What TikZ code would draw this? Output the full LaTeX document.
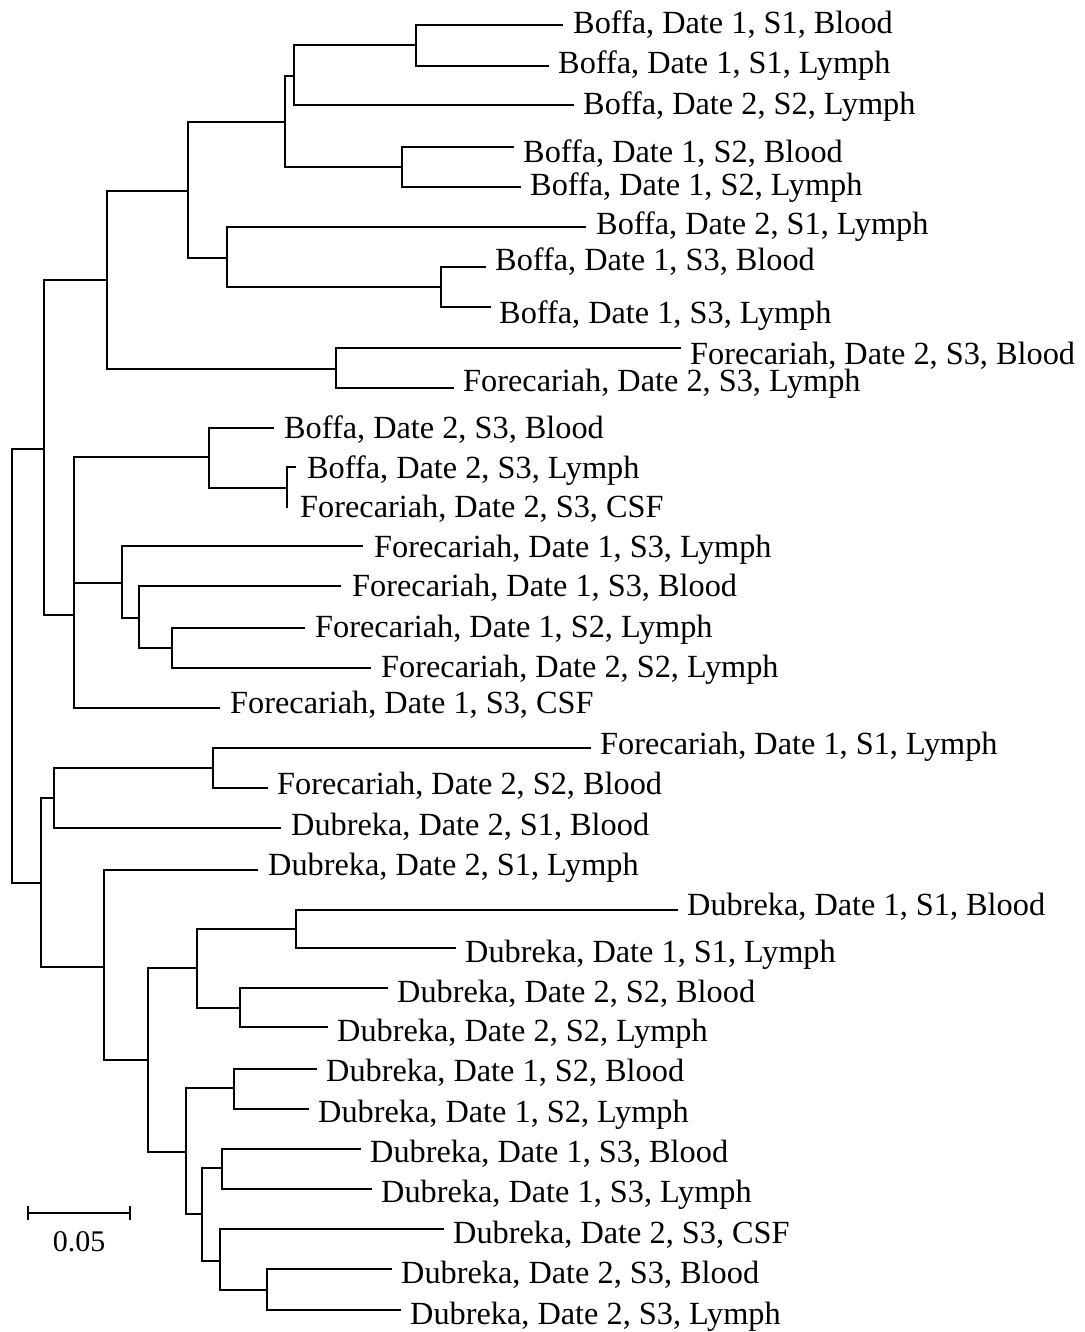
\documentclass[tikz,border=0pt]{standalone}
\usepackage{fontspec}
\setmainfont{Liberation Serif}
\begin{document}
\begin{tikzpicture}[x=1pt,y=-1pt,
  lab/.style={anchor=base west,inner sep=0pt,font=\fontsize{32.3}{36}\selectfont},
  br/.style={line width=1.5pt,line join=miter,line cap=rect}]
\useasboundingbox (0,0) rectangle (1084,1332);
% internal nodes (x, y of incoming link)
\coordinate (A) at (416,45);
\coordinate (B) at (294,76);
\coordinate (D) at (402,167);
\coordinate (C) at (285,122);
\coordinate (G) at (441,287);
\coordinate (F) at (227,258);
\coordinate (E) at (188,191);
\coordinate (I) at (336,369);
\coordinate (H) at (107,280);
\coordinate (J) at (44,449);
\coordinate (K) at (12,666);
\coordinate (O) at (287,488);
\coordinate (M) at (209,457);
\coordinate (Q) at (172,648);
\coordinate (P) at (139,618);
\coordinate (N) at (122,583);
\coordinate (L) at (74,615);
\coordinate (T) at (213,768);
\coordinate (S) at (54,798);
\coordinate (R) at (41,883);
\coordinate (X) at (296,929);
\coordinate (Y) at (240,1008);
\coordinate (W) at (197,968);
\coordinate (AA) at (234,1088);
\coordinate (AC) at (222,1168);
\coordinate (AE) at (267,1290);
\coordinate (AD) at (220,1261);
\coordinate (AB) at (202,1214);
\coordinate (Z) at (186,1152);
\coordinate (V) at (148,1060);
\coordinate (U) at (104,967);
% labels
\node[lab] (t1) at (573,34) {Boffa, Date 1, S1, Blood};
\node[lab] (t2) at (558,74) {Boffa, Date 1, S1, Lymph};
\node[lab] (t3) at (583,115) {Boffa, Date 2, S2, Lymph};
\node[lab] (t4) at (523,163) {Boffa, Date 1, S2, Blood};
\node[lab] (t5) at (530,196) {Boffa, Date 1, S2, Lymph};
\node[lab] (t6) at (596,235) {Boffa, Date 2, S1, Lymph};
\node[lab] (t7) at (495,270) {Boffa, Date 1, S3, Blood};
\node[lab] (t8) at (499,323) {Boffa, Date 1, S3, Lymph};
\node[lab] (t9) at (690,364) {Forecariah, Date 2, S3, Blood};
\node[lab] (t10) at (463,391) {Forecariah, Date 2, S3, Lymph};
\node[lab] (t11) at (284,438) {Boffa, Date 2, S3, Blood};
\node[lab] (t12) at (307,478) {Boffa, Date 2, S3, Lymph};
\node[lab] (t13) at (300,517) {Forecariah, Date 2, S3, CSF};
\node[lab] (t14) at (374,557) {Forecariah, Date 1, S3, Lymph};
\node[lab] (t15) at (352,596) {Forecariah, Date 1, S3, Blood};
\node[lab] (t16) at (315,637) {Forecariah, Date 1, S2, Lymph};
\node[lab] (t17) at (381,677) {Forecariah, Date 2, S2, Lymph};
\node[lab] (t18) at (230,713) {Forecariah, Date 1, S3, CSF};
\node[lab] (t19) at (600,754) {Forecariah, Date 1, S1, Lymph};
\node[lab] (t20) at (277,794) {Forecariah, Date 2, S2, Blood};
\node[lab] (t21) at (291,835) {Dubreka, Date 2, S1, Blood};
\node[lab] (t22) at (268,875) {Dubreka, Date 2, S1, Lymph};
\node[lab] (t23) at (687,915) {Dubreka, Date 1, S1, Blood};
\node[lab] (t24) at (465,962) {Dubreka, Date 1, S1, Lymph};
\node[lab] (t25) at (397,1002) {Dubreka, Date 2, S2, Blood};
\node[lab] (t26) at (337,1041) {Dubreka, Date 2, S2, Lymph};
\node[lab] (t27) at (326,1081) {Dubreka, Date 1, S2, Blood};
\node[lab] (t28) at (318,1122) {Dubreka, Date 1, S2, Lymph};
\node[lab] (t29) at (370,1162) {Dubreka, Date 1, S3, Blood};
\node[lab] (t30) at (381,1202) {Dubreka, Date 1, S3, Lymph};
\node[lab] (t31) at (453,1243) {Dubreka, Date 2, S3, CSF};
\node[lab] (t32) at (401,1283) {Dubreka, Date 2, S3, Blood};
\node[lab] (t33) at (410,1324) {Dubreka, Date 2, S3, Lymph};
% leaf ends
\coordinate (e1) at (562,25);
\coordinate (e2) at (548,66);
\coordinate (e3) at (573,105);
\coordinate (e4) at (513,147);
\coordinate (e5) at (520,187);
\coordinate (e6) at (585,227);
\coordinate (e7) at (485,267);
\coordinate (e8) at (490,307);
\coordinate (e9) at (680,348);
\coordinate (e10) at (453,388);
\coordinate (e11) at (273,428);
\coordinate (e12) at (295,467);
\coordinate (e13) at (287,507);
\coordinate (e14) at (362,546);
\coordinate (e15) at (340,586);
\coordinate (e16) at (304,628);
\coordinate (e17) at (370,668);
\coordinate (e18) at (219,708);
\coordinate (e19) at (590,748);
\coordinate (e20) at (267,788);
\coordinate (e21) at (280,828);
\coordinate (e22) at (257,870);
\coordinate (e23) at (677,910);
\coordinate (e24) at (455,948);
\coordinate (e25) at (387,988);
\coordinate (e26) at (327,1027);
\coordinate (e27) at (316,1069);
\coordinate (e28) at (308,1109);
\coordinate (e29) at (360,1149);
\coordinate (e30) at (371,1189);
\coordinate (e31) at (443,1229);
\coordinate (e32) at (391,1269);
\coordinate (e33) at (400,1310);
% branches
\draw[br] (A) |- (e1) (A) |- (e2);
\draw[br] (B) |- (A) (B) |- (e3);
\draw[br] (D) |- (e4) (D) |- (e5);
\draw[br] (C) |- (B) (C) |- (D);
\draw[br] (G) |- (e7) (G) |- (e8);
\draw[br] (F) |- (e6) (F) |- (G);
\draw[br] (E) |- (C) (E) |- (F);
\draw[br] (I) |- (e9) (I) |- (e10);
\draw[br] (H) |- (E) (H) |- (I);
\draw[br] (J) |- (H) (J) |- (L);
\draw[br] (O) |- (e12) (O) |- (e13);
\draw[br] (M) |- (e11) (M) |- (O);
\draw[br] (Q) |- (e16) (Q) |- (e17);
\draw[br] (P) |- (e15) (P) |- (Q);
\draw[br] (N) |- (e14) (N) |- (P);
\draw[br] (L) |- (M) (L) |- (N) (L) |- (e18);
\draw[br] (K) |- (J) (K) |- (R);
\draw[br] (T) |- (e19) (T) |- (e20);
\draw[br] (S) |- (T) (S) |- (e21);
\draw[br] (R) |- (S) (R) |- (U);
\draw[br] (X) |- (e23) (X) |- (e24);
\draw[br] (Y) |- (e25) (Y) |- (e26);
\draw[br] (W) |- (X) (W) |- (Y);
\draw[br] (AA) |- (e27) (AA) |- (e28);
\draw[br] (AC) |- (e29) (AC) |- (e30);
\draw[br] (AE) |- (e32) (AE) |- (e33);
\draw[br] (AD) |- (e31) (AD) |- (AE);
\draw[br] (AB) |- (AC) (AB) |- (AD);
\draw[br] (Z) |- (AA) (Z) |- (AB);
\draw[br] (V) |- (W) (V) |- (Z);
\draw[br] (U) |- (e22) (U) |- (V);
% scale bar
\coordinate (sb1) at (28,1213);
\coordinate (sb2) at (130,1213);
\draw[line width=1.5pt] (sb1) -- (sb2);
\draw[line width=1.5pt] ([yshift=-7pt]sb1) -- ([yshift=7pt]sb1);
\draw[line width=1.5pt] ([yshift=-7pt]sb2) -- ([yshift=7pt]sb2);
\node[anchor=base,inner sep=0pt,font=\fontsize{30}{34}\selectfont] (sbl) at (79,1251) {0.05};
\end{tikzpicture}
\end{document}
